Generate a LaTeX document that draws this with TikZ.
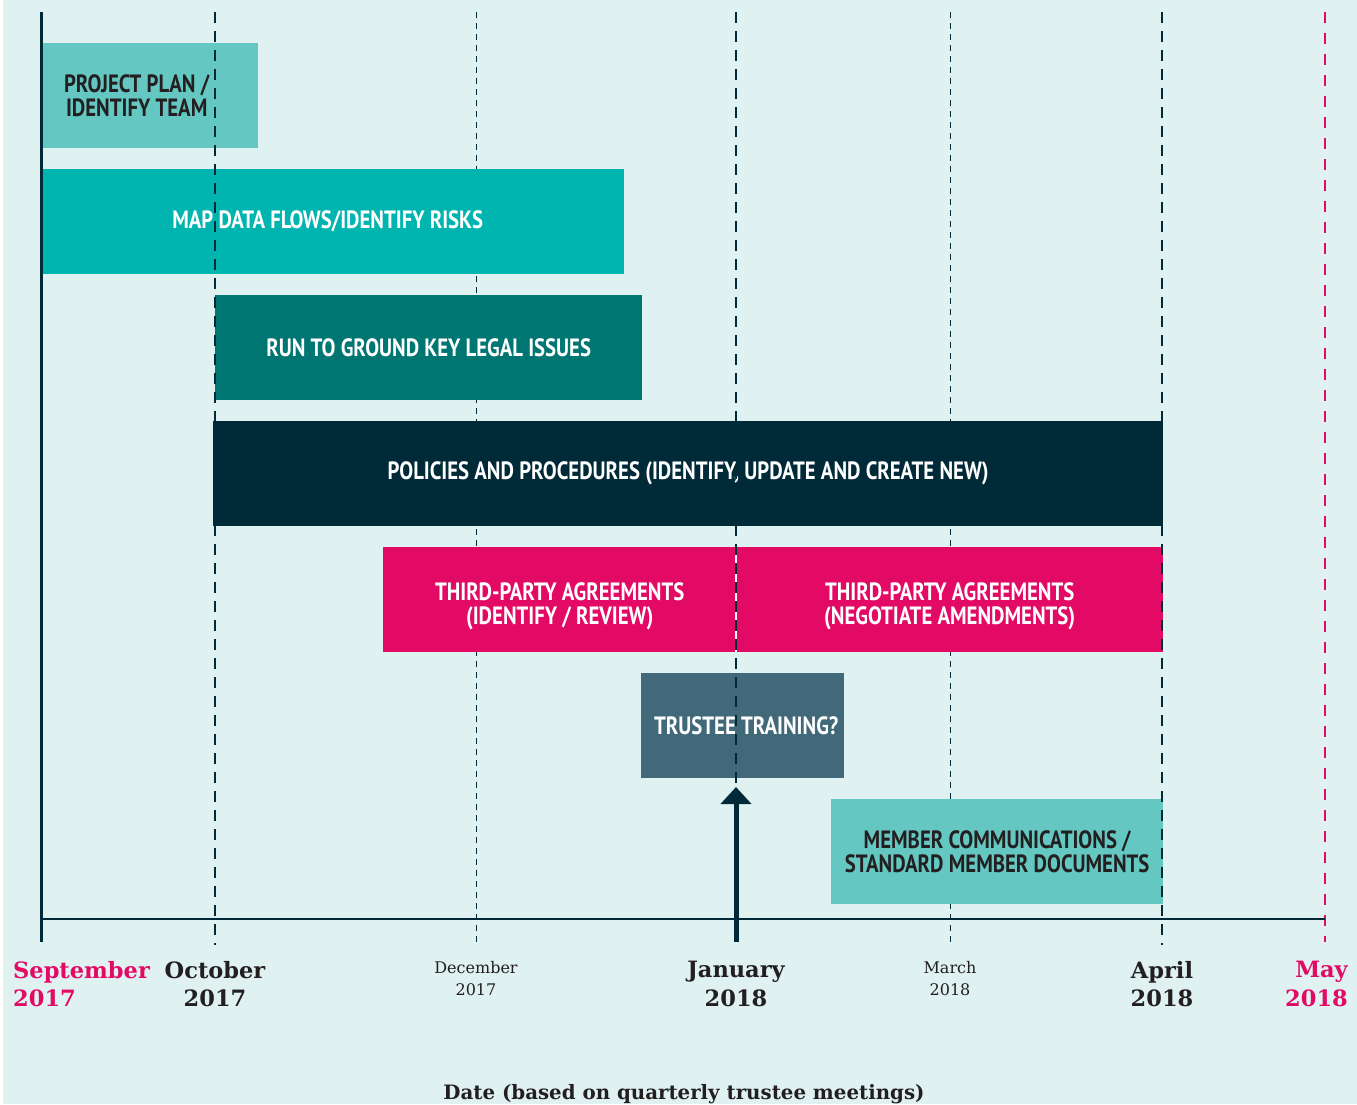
\documentclass[tikz,border=0pt]{standalone}
\usepackage{fontspec}
\setmainfont{DejaVu Serif}
\newfontfamily\barfont[FakeStretch=0.83]{PT Sans}
\usetikzlibrary{arrows.meta}
\definecolor{bgmint}{HTML}{DFF1F1}
\definecolor{navy}{HTML}{002A38}
\definecolor{mintbar}{HTML}{64C7C2}
\definecolor{tealbar}{HTML}{00B5AF}
\definecolor{deepteal}{HTML}{007672}
\definecolor{magenta}{HTML}{E30A65}
\definecolor{slate}{HTML}{41697A}
\definecolor{ink}{HTML}{231F20}

\begin{document}
\begin{tikzpicture}[x=1pt,y=-1pt,
    taskbar/.style={anchor=north west, minimum height=105pt, inner sep=0pt,
      align=center, text=white, font=\barfont\bfseries\fontsize{25}{24}\selectfont},
    tasklabel/.style={inner sep=0pt, align=center, text=white,
      font=\barfont\bfseries\fontsize{25}{24}\selectfont},
    minorline/.style={navy, line width=1pt, dash pattern=on 6pt off 5pt},
    majorline/.style={navy, line width=2.6pt, dash pattern=on 11pt off 8pt},
    bigdate/.style={text=ink, font=\bfseries\fontsize{22.5}{28.5}\selectfont, align=center, inner sep=0pt},
    smalldate/.style={text=ink, font=\fontsize{16}{22}\selectfont, align=center, inner sep=0pt}]
  % background
  \fill[white] (0,0) rectangle (3,1104);
  \fill[bgmint] (3,0) rectangle (1357,1104);
  \useasboundingbox (0,0) rectangle (1357,1104);

  % thin month lines sit behind the bars
  \draw[minorline] (476,12) -- (476,942);
  \draw[minorline] (950,12) -- (950,942);

  % tasks
  \node[taskbar, fill=mintbar, minimum width=217pt] (plan) at (41,43) {};
  \node[tasklabel, text=ink] (plantext) at ([xshift=-13pt]plan.center)
    {PROJECT PLAN /\\IDENTIFY TEAM};
  \node[taskbar, fill=tealbar, minimum width=583pt] (flows) at (41,169)
    {MAP DATA FLOWS/IDENTIFY RISKS\hspace*{10pt}};
  \node[taskbar, fill=deepteal, minimum width=427pt] (legal) at (215,295)
    {RUN TO GROUND KEY LEGAL ISSUES};
  \node[taskbar, fill=navy, minimum width=950pt] (policies) at (213,421)
    {POLICIES AND PROCEDURES (IDENTIFY, UPDATE AND CREATE NEW)};
  \node[taskbar, fill=magenta, minimum width=353pt] (tpreview) at (383,547) {};
  \node[taskbar, fill=magenta, minimum width=427pt] (tpamend) at (736,547) {};
  \node[tasklabel] (tpreviewtext) at ([yshift=-7pt]tpreview.center)
    {THIRD-PARTY AGREEMENTS\\(IDENTIFY / REVIEW)};
  \node[tasklabel] (tpamendtext) at ([yshift=-7pt]tpamend.center)
    {THIRD-PARTY AGREEMENTS\\(NEGOTIATE AMENDMENTS)};
  \node[taskbar, fill=slate, minimum width=203pt] (training) at (641,673)
    {\hspace*{7pt}TRUSTEE TRAINING?};
  \node[taskbar, fill=mintbar, text=ink, minimum width=332pt] (members) at (831,799)
    {MEMBER COMMUNICATIONS /\\STANDARD MEMBER DOCUMENTS};
  \draw[white, line width=1.2pt] (tpamend.north west) -- (tpamend.south west);

  % quarter lines over the bars
  \draw[majorline] (215,12) -- (215,945);
  \draw[majorline] (736,12) -- (736,920);
  \draw[majorline] (1162,12) -- (1162,945);
  \draw[magenta, line width=2.4pt, dash pattern=on 11pt off 10pt] (1325,12) -- (1325,942);

  % axes
  \coordinate (origin) at (41,919);
  \coordinate (axisend) at (1325,919);
  \draw[navy, line width=3pt] (41,12) -- (41,942);
  \draw[navy, line width=2.4pt] (origin) -- (axisend);

  % arrow to January
  \coordinate (janbase) at (736,942);
  \coordinate (jantip) at (736,787);
  \draw[navy, line width=5pt, -{Triangle[width=30pt,length=17pt]}] (janbase) -- (jantip);

  % dates
  \node[bigdate, text=magenta, align=left, anchor=north west] (sep) at (13,961) {September\\2017};
  \node[bigdate, anchor=north] (oct) at (215,961) {October\\2017};
  \node[smalldate, anchor=north] (dec) at (476,961) {December\\2017};
  \node[bigdate, anchor=north] (jan) at (736,961) {January\\2018};
  \node[smalldate, anchor=north] (mar) at (950,961) {March\\2018};
  \node[bigdate, anchor=north] (apr) at (1162,961) {April\\2018};
  \node[bigdate, text=magenta, align=right, anchor=north east] (may) at (1348,961) {May\\2018};
  \node[bigdate, font=\bfseries\fontsize{19.8}{24}\selectfont, anchor=north] (datetitle) at (684,1084)
    {Date (based on quarterly trustee meetings)};
\end{tikzpicture}
\end{document}
